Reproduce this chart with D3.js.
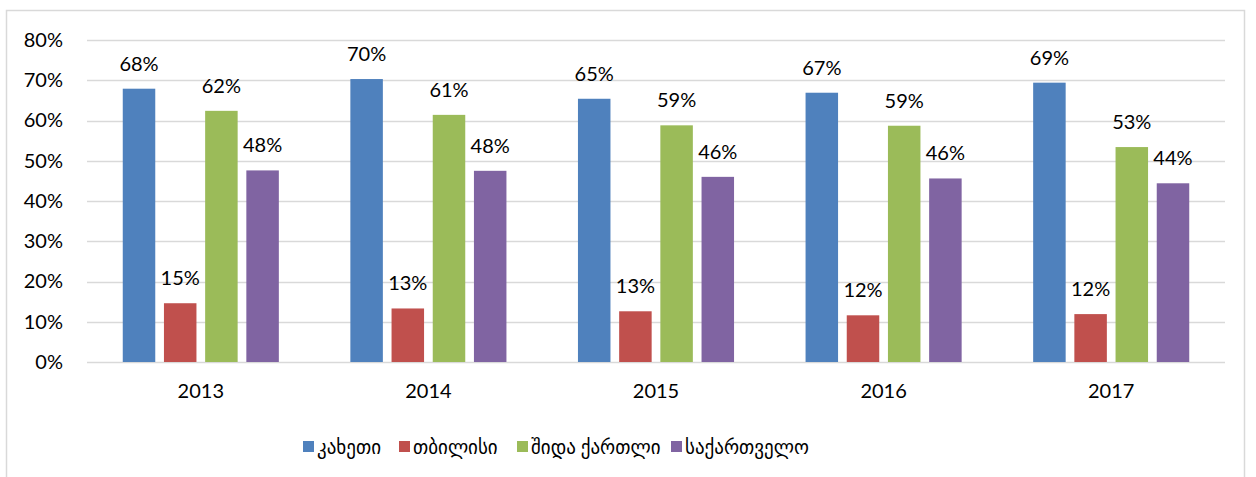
<!DOCTYPE html>
<html><head><meta charset="utf-8">
<script src="https://cdn.jsdelivr.net/npm/d3@7"></script>
<style>
html,body{margin:0;padding:0;background:#fff;}
text{font-family:Lato,"Open Sans","DejaVu Sans",sans-serif;fill:#000;}
</style></head>
<body><svg id="c" width="1256" height="477"></svg>
<script>
const years = ["2013","2014","2015","2016","2017"];
const seriesNames = ["კახეთი","თბილისი","შიდა ქართლი","საქართველო"];
const seriesColors = ["#4f81bd","#c0504d","#9bbb59","#8064a2"];
const kakheti   = [67.9, 70.3, 65.4, 66.9, 69.4];
const tbilisi   = [14.6, 13.3, 12.6, 11.6, 11.9];
const shidaKartli = [62.4, 61.4, 58.8, 58.7, 53.4];
const sakartvelo = [47.6, 47.5, 46.0, 45.6, 44.4];
const yTicks = [0,10,20,30,40,50,60,70,80];

const seriesValues = [kakheti, tbilisi, shidaKartli, sakartvelo];
const svg = d3.select("#c");

// outer border
svg.append("rect").attr("x",6.5).attr("y",10.5).attr("width",1238).attr("height",480)
  .attr("fill","none").attr("stroke","#d9d9d9").attr("stroke-width",1.5);

const pL=87, pR=1225, pT=40, pB=362;
const y = d3.scaleLinear().domain([0,80]).range([pB,pT]);
const x0 = d3.scaleBand().domain(years).range([pL,pR]).padding(0);
const x1 = d3.scaleBand().domain(seriesNames).range([0,x0.bandwidth()]).paddingInner(0.211).paddingOuter(0.868);

// gridlines
svg.append("g").selectAll("line").data(yTicks).join("line")
  .attr("x1",pL).attr("x2",pR)
  .attr("y1",d=>Math.round(y(d))+0.5).attr("y2",d=>Math.round(y(d))+0.5)
  .attr("stroke","#d9d9d9").attr("stroke-width",1.5);

const ff = 'Lato,"Open Sans","DejaVu Sans",sans-serif';
const fs = 20;
// y axis labels
const yAxis = d3.axisLeft(y).tickValues(yTicks).tickFormat(d=>d+"%").tickSize(0).tickPadding(0);
const ya = svg.append("g").attr("transform",`translate(${pL-24},0)`).call(yAxis);
ya.select(".domain").remove();
ya.selectAll("text").attr("font-size",fs).attr("font-family",ff).attr("fill","#000");

// x axis labels
const xAxis = d3.axisBottom(x0).tickSize(0).tickPadding(0);
const xa = svg.append("g").attr("transform",`translate(0,${pB+22})`).call(xAxis);
xa.select(".domain").remove();
xa.selectAll("text").attr("font-size",fs).attr("font-family",ff).attr("fill","#000");

// bars
const data = [];
years.forEach((yr,i)=>seriesNames.forEach((s,j)=>data.push({yr,s,j,v:seriesValues[j][i]})));
const g = svg.append("g");
g.selectAll("rect").data(data).join("rect")
  .attr("x",d=>x0(d.yr)+x1(d.s)).attr("width",x1.bandwidth())
  .attr("y",d=>y(d.v)).attr("height",d=>y(0)-y(d.v))
  .attr("fill",d=>seriesColors[d.j]);
g.selectAll("text").data(data).join("text")
  .attr("x",d=>x0(d.yr)+x1(d.s)+x1.bandwidth()/2)
  .attr("y",d=>y(d.v)-18)
  .attr("text-anchor","middle").attr("font-size",fs)
  .text(d=>Math.round(d.v)+"%");

// legend
const legX = [303,399,517,671];
const lg = svg.append("g");
seriesNames.forEach((s,j)=>{
  lg.append("rect").attr("x",legX[j]).attr("y",441).attr("width",11).attr("height",11).attr("fill",seriesColors[j]);
  lg.append("text").attr("x",legX[j]+14).attr("y",454).attr("font-size",19).text(s);
});
</script></body></html>
